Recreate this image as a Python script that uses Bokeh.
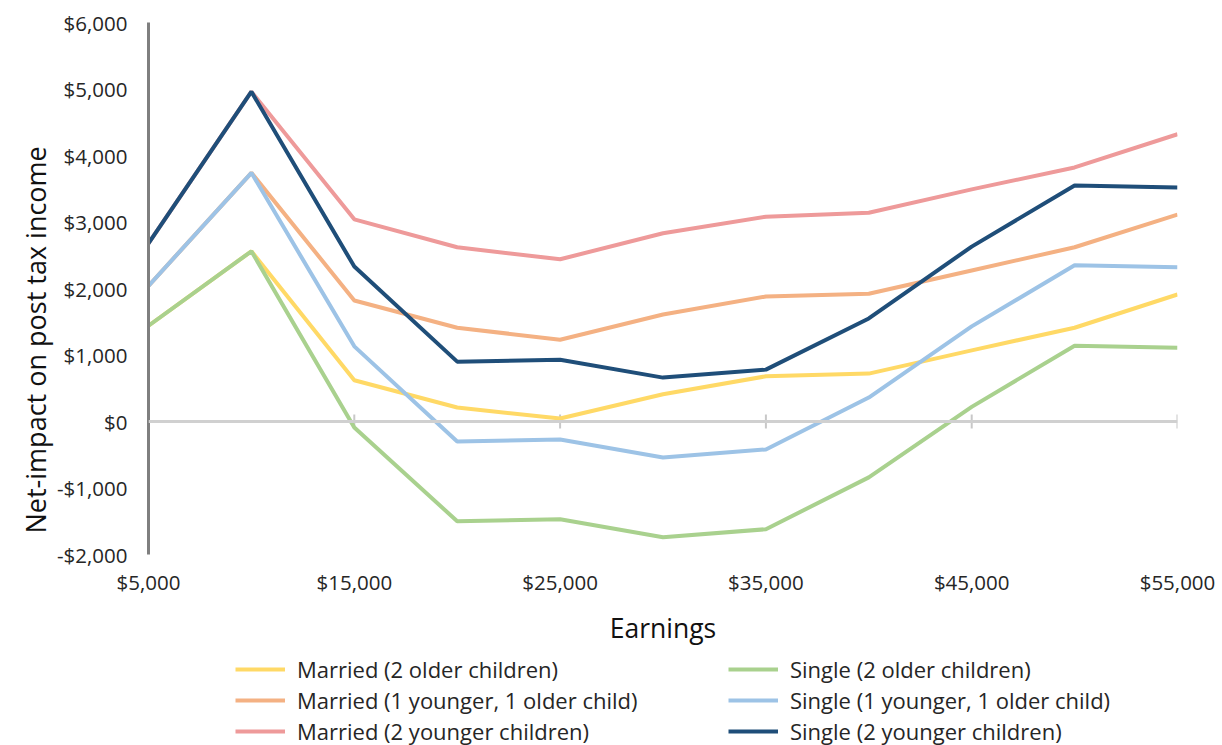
from bokeh.plotting import figure
from bokeh.models import Range1d, FixedTicker, CustomJSTickFormatter, Span, Legend, LegendItem, Title
from bokeh.layouts import column
from bokeh.embed import file_html
from bokeh.resources import INLINE
import math

earnings = [5000, 10000, 15000, 20000, 25000, 30000, 35000, 40000, 45000, 50000, 55000]
married_2_older = [1440, 2560, 620, 210, 45, 410, 680, 720, 1070, 1410, 1910]
married_1y_1o = [2040, 3740, 1820, 1410, 1230, 1610, 1880, 1920, 2270, 2620, 3110]
married_2_younger = [2680, 4960, 3040, 2620, 2440, 2830, 3080, 3140, 3490, 3820, 4320]
single_2_older = [1440, 2560, -90, -1500, -1470, -1740, -1620, -840, 220, 1140, 1110]
single_1y_1o = [2040, 3740, 1130, -300, -270, -540, -420, 360, 1430, 2350, 2320]
single_2_younger = [2680, 4960, 2330, 900, 930, 660, 780, 1550, 2630, 3550, 3520]

x_ticks = [5000, 15000, 25000, 35000, 45000, 55000]
zero_ticks = [15000, 25000, 35000, 45000, 55000]
y_ticks = [-2000, -1000, 0, 1000, 2000, 3000, 4000, 5000, 6000]

FONT = "Open Sans"
TXT = "#262626"

P_H = 652
p = figure(width=1222, height=P_H, output_backend="svg", toolbar_location=None,
           x_range=Range1d(5000, 55000), y_range=Range1d(-2000, 6000),
           min_border_left=148, min_border_right=45, min_border_top=22, min_border_bottom=P_H - 554)
p.outline_line_color = None
p.grid.grid_line_color = None

fmt = CustomJSTickFormatter(code="""
const a = Math.abs(tick).toLocaleString('en-US');
return (tick < 0 ? '-$' : '$') + a;
""")

p.yaxis.ticker = FixedTicker(ticks=y_ticks)
p.yaxis.formatter = fmt
p.yaxis.axis_line_color = "#7F7F7F"
p.yaxis.axis_line_width = 3
p.yaxis.major_tick_line_color = None
p.yaxis.minor_tick_line_color = None
p.yaxis.major_label_standoff = 15
p.yaxis.major_label_text_font = FONT
p.yaxis.major_label_text_font_size = "20.5px"
p.yaxis.major_label_text_color = TXT

p.xaxis.ticker = FixedTicker(ticks=x_ticks)
p.xaxis.formatter = fmt
p.xaxis.axis_line_color = None
p.xaxis.major_tick_line_color = None
p.xaxis.minor_tick_line_color = None
p.xaxis.major_label_standoff = 7
p.xaxis.major_label_text_font = FONT
p.xaxis.major_label_text_font_size = "20.5px"
p.xaxis.major_label_text_color = TXT
p.xaxis.axis_label = "Earnings"
p.xaxis.axis_label_text_font = FONT
p.xaxis.axis_label_text_font_size = "26.5px"
p.xaxis.axis_label_text_font_style = "normal"
p.xaxis.axis_label_text_color = "#111111"
p.xaxis.axis_label_standoff = 11

ytitle = Title(text="Net-impact on post tax income", align="left", offset=21,
               text_font=FONT, text_font_size="27px", text_font_style="normal",
               text_color="#111111", standoff=0)
p.add_layout(ytitle, "left")

p.add_layout(Span(location=0, dimension="width", line_color="#D0D0D0", line_width=3))
p.scatter(x=zero_ticks, y=[0] * len(zero_ticks), marker="dash", angle=math.pi / 2, size=14,
          line_color="#C8C8C8", line_width=2)

series = [
    ("Married (2 older children)", married_2_older, "#FFD966"),
    ("Married (1 younger, 1 older child)", married_1y_1o, "#F4B183"),
    ("Married (2 younger children)", married_2_younger, "#EE9A9A"),
    ("Single (2 older children)", single_2_older, "#A9D18E"),
    ("Single (1 younger, 1 older child)", single_1y_1o, "#9DC3E6"),
    ("Single (2 younger children)", single_2_younger, "#1F4E79"),
]
draw_order = [2, 1, 0, 3, 4, 5]
for i in draw_order:
    name, vals, col = series[i]
    p.line(earnings, vals, line_color=col, line_width=4)

# legend panel below the chart (frame is aligned with the main chart's frame)
L_H = 745 - P_H
lp = figure(width=1222, height=L_H, output_backend="svg", toolbar_location=None,
            x_range=Range1d(0, 1), y_range=Range1d(0, 1),
            min_border_left=0, min_border_right=0, min_border_top=0, min_border_bottom=0)
lp.axis.visible = False
lp.grid.grid_line_color = None
lp.outline_line_color = None
leg_renderers = {}
for i, (name, vals, col) in enumerate(series):
    # same series, out of this panel's visible range: only used for legend swatches
    leg_renderers[i] = lp.line(earnings, vals, line_color=col, line_width=4)

def make_legend(idx, x):
    lg = Legend(items=[LegendItem(label=series[i][0], renderers=[leg_renderers[i]]) for i in idx],
                location=(x, -1), orientation="vertical")
    lg.border_line_color = None
    lg.background_fill_alpha = 0
    lg.padding = 0
    lg.margin = 0
    lg.spacing = 1
    lg.glyph_width = 50
    lg.glyph_height = 20
    lg.label_height = 30
    lg.label_standoff = 12
    lg.label_text_font = FONT
    lg.label_text_font_size = "22px"
    lg.label_text_color = TXT
    return lg

lp.add_layout(make_legend([0, 1, 2], 235 - 148), "center")
lp.add_layout(make_legend([3, 4, 5], 728 - 148), "center")

layout = column(p, lp, spacing=0)
open("out.html", "w").write(file_html(layout, INLINE))
